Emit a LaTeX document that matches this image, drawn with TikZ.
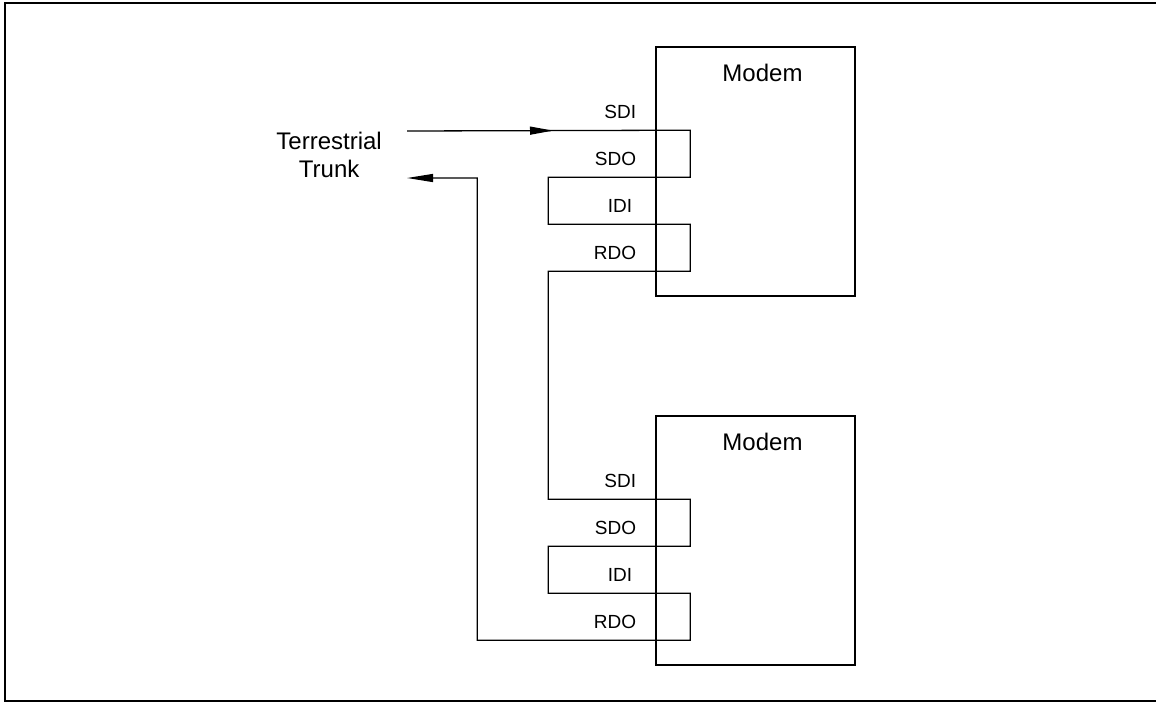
\documentclass[tikz,border=0pt]{standalone}
\usepackage{fontspec}
\setmainfont{Liberation Sans}
\usetikzlibrary{positioning,arrows.meta,calc}
\usetikzlibrary{decorations.markings}
\tikzset{
  modem/.style={draw=black, line width=1.4pt, minimum width=199pt,
    minimum height=249pt, inner sep=0pt},
  title/.style={inner sep=0pt, font=\fontsize{24}{28}\selectfont},
  pinlbl/.style={anchor=east, inner sep=0pt, font=\fontsize{19}{23}\selectfont},
  wire/.style={draw=black, line width=1.3pt},
  feed/.style={wire, postaction={decorate},
    decoration={markings,mark=at position 146pt with {\arrow{Triangle[length=23pt,width=8pt]}}}},
  frame/.style={draw=black, line width=2.4pt}
}

\begin{document}
\begin{tikzpicture}[x=1pt,y=-1pt]
  \useasboundingbox (0,0) rectangle (1156,702);
  \draw[frame] (1156,3) -- (5,3) -- (5,701) -- (1156,701);

  \node[modem] (m1) at (755.5,171.5) {};
  \node[modem] (m2) at (755.5,540.5) {};
  \node[title, below=18pt of m1.north, xshift=7pt] (m1name) {Modem};
  \node[title, below=18pt of m2.north, xshift=7pt] (m2name) {Modem};

  % pins on the left side of each modem
  \foreach \m in {m1,m2}
    \foreach \p/\dy/\txt/\dx in {sdi/84/SDI/0,sdo/131/SDO/0,idi/178/IDI/-4,rdo/225/RDO/0} {
      \coordinate (\m\p) at ($(\m.north west)+(0,\dy)$);
      \node[pinlbl] (\m\p-l) at ($(\m\p)+(-19+\dx,-18)$) {\txt};
    }

  \coordinate (tin) at (407,131);
  \coordinate (tout) at (407,178);
  \coordinate (tmid) at ($(tin)!.5!(tout)$);
  \node[title, align=center, left=25pt of tmid] (trunk) {Terrestrial\\Trunk};

  \draw[feed, -{Triangle[length=26pt,width=8pt]}]
    (tin) -- (m1sdi) -- ++(35,0) |- (m1sdo) -- ++(-107,0) |- (m1idi)
    -- ++(35,0) |- (m1rdo) -- ++(-107,0) |- (m2sdi)
    -- ++(35,0) |- (m2sdo) -- ++(-107,0) |- (m2idi)
    -- ++(35,0) |- (m2rdo) -- ++(-178,0) |- (tout);
\end{tikzpicture}
\end{document}
